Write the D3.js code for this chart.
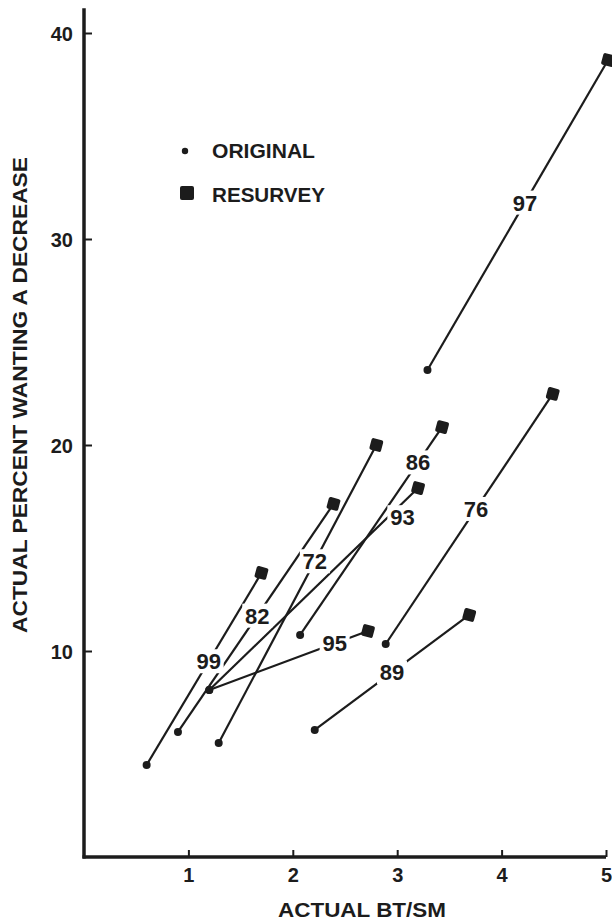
<!DOCTYPE html>
<html>
<head>
<meta charset="utf-8">
<script src="https://cdn.jsdelivr.net/npm/d3@7"></script>
<style>
  html, body { margin: 0; padding: 0; background: #fff; }
  svg { display: block; }
  text { font-family: "Liberation Sans", Arial, Helvetica, sans-serif; font-weight: bold; fill: #1c1c1c; }
</style>
</head>
<body>
<svg id="chart" width="612" height="921"></svg>
<script>
// ---- data ----
const categories = ["99", "82", "72", "95", "93", "86", "76", "89", "97"];
const originalX  = [0.60, 0.90, 1.29, 1.20, 1.20, 2.07, 2.89, 2.21, 3.29];
const originalY  = [4.47, 6.07, 5.53, 8.11, 8.11, 10.78, 10.34, 6.17, 23.64];
const resurveyX  = [1.70, 2.39, 2.80, 2.72, 3.20, 3.43, 4.49, 3.69, 5.02];
const resurveyY  = [13.79, 17.14, 20.00, 10.97, 17.91, 20.87, 22.48, 11.75, 38.69];
const xTicks = [1, 2, 3, 4, 5];
const yTicks = [10, 20, 30, 40];
const legendLabels = ["ORIGINAL", "RESURVEY"];
const xTitle = "ACTUAL BT/SM";
const yTitle = "ACTUAL PERCENT WANTING A DECREASE";
// label position along each segment (fraction from original to resurvey)
const labelT = [0.54, 0.51, 0.61, 0.79, 0.92, 0.83, 0.54, 0.50, 0.54];

// ---- layout ----
const ink = "#1c1c1c";
const svg = d3.select("#chart");
const x = d3.scaleLinear().domain([0, 5]).range([84, 606]);
const y = d3.scaleLinear().domain([0, 40]).range([857, 33]);

// axes
const xAxis = d3.axisBottom(x).tickValues(xTicks).tickSize(-7).tickSizeOuter(0).tickFormat(d3.format("d"));
const yAxis = d3.axisLeft(y).tickValues(yTicks).tickSize(-8).tickSizeOuter(0).tickFormat(d3.format("d"));

const gx = svg.append("g").attr("transform", `translate(0,${y(0)})`).call(xAxis);
gx.select(".domain").remove();
gx.selectAll(".tick line").attr("stroke", ink).attr("stroke-width", 2);
gx.selectAll(".tick text").attr("y", 11).attr("dy", "0.71em")
  .style("font-size", "20px").attr("fill", ink).attr("font-family", null);

const gy = svg.append("g").attr("transform", `translate(${x(0)},0)`).call(yAxis);
gy.select(".domain").remove();
gy.selectAll(".tick line").attr("stroke", ink).attr("stroke-width", 2);
gy.selectAll(".tick text").attr("x", -11).attr("dy", "0.36em")
  .style("font-size", "20px").attr("fill", ink).attr("font-family", null);

// axis lines (thick)
svg.append("line").attr("x1", x(0)).attr("x2", x(0)).attr("y1", y(41.2)).attr("y2", y(0) + 1.5)
  .attr("stroke", ink).attr("stroke-width", 3.5);
svg.append("line").attr("x1", x(0) - 1.5).attr("x2", x(5)).attr("y1", y(0)).attr("y2", y(0))
  .attr("stroke", ink).attr("stroke-width", 3.5);

// titles
svg.append("text").attr("x", 362).attr("y", 917).attr("text-anchor", "middle")
  .attr("textLength", 168).attr("lengthAdjust", "spacingAndGlyphs")
  .style("font-size", "21px").text(xTitle);
svg.append("text").attr("transform", "translate(27,395) rotate(-90)").attr("text-anchor", "middle")
  .attr("textLength", 476).attr("lengthAdjust", "spacingAndGlyphs")
  .style("font-size", "21px").text(yTitle);

// data
const data = categories.map((c, i) => ({
  id: c, x0: originalX[i], y0: originalY[i], x1: resurveyX[i], y1: resurveyY[i], t: labelT[i]
}));

const plot = svg.append("g");
plot.selectAll("line.seg").data(data).join("line").attr("class", "seg")
  .attr("x1", d => x(d.x0)).attr("y1", d => y(d.y0))
  .attr("x2", d => x(d.x1)).attr("y2", d => y(d.y1))
  .attr("stroke", ink).attr("stroke-width", 2.2);

// labels with white gap
const lab = plot.selectAll("g.lab").data(data).join("g").attr("class", "lab")
  .attr("transform", d => {
    const px = x(d.x0) + d.t * (x(d.x1) - x(d.x0));
    const py = y(d.y0) + d.t * (y(d.y1) - y(d.y0));
    const off = d.id === "93" ? [1, 13] : [0, 0];
    return `translate(${px + off[0]},${py + off[1]})`;
  });
lab.append("rect").attr("x", -15).attr("y", -12).attr("width", 30).attr("height", 24).attr("fill", "#fff");
lab.append("text").attr("text-anchor", "middle").attr("dy", "0.36em")
  .style("font-size", "22px").text(d => d.id);

// markers
plot.selectAll("circle.orig").data(data).join("circle").attr("class", "orig")
  .attr("cx", d => x(d.x0)).attr("cy", d => y(d.y0)).attr("r", 4).attr("fill", ink);
plot.selectAll("rect.res").data(data).join("rect").attr("class", "res")
  .attr("x", -6).attr("y", -6).attr("width", 12).attr("height", 12).attr("rx", 2)
  .attr("transform", d => `translate(${x(d.x1)},${y(d.y1)}) rotate(15)`)
  .attr("fill", ink);

// legend
const leg = svg.append("g");
leg.append("circle").attr("cx", 185).attr("cy", 151).attr("r", 3.2).attr("fill", ink);
leg.append("rect").attr("x", 180).attr("y", 186).attr("width", 14).attr("height", 14).attr("rx", 2).attr("fill", ink);
leg.append("text").attr("x", 212).attr("y", 158).attr("textLength", 103).attr("lengthAdjust", "spacingAndGlyphs")
  .style("font-size", "20px").text(legendLabels[0]);
leg.append("text").attr("x", 212).attr("y", 202).attr("textLength", 113).attr("lengthAdjust", "spacingAndGlyphs")
  .style("font-size", "20px").text(legendLabels[1]);
</script>
</body>
</html>
